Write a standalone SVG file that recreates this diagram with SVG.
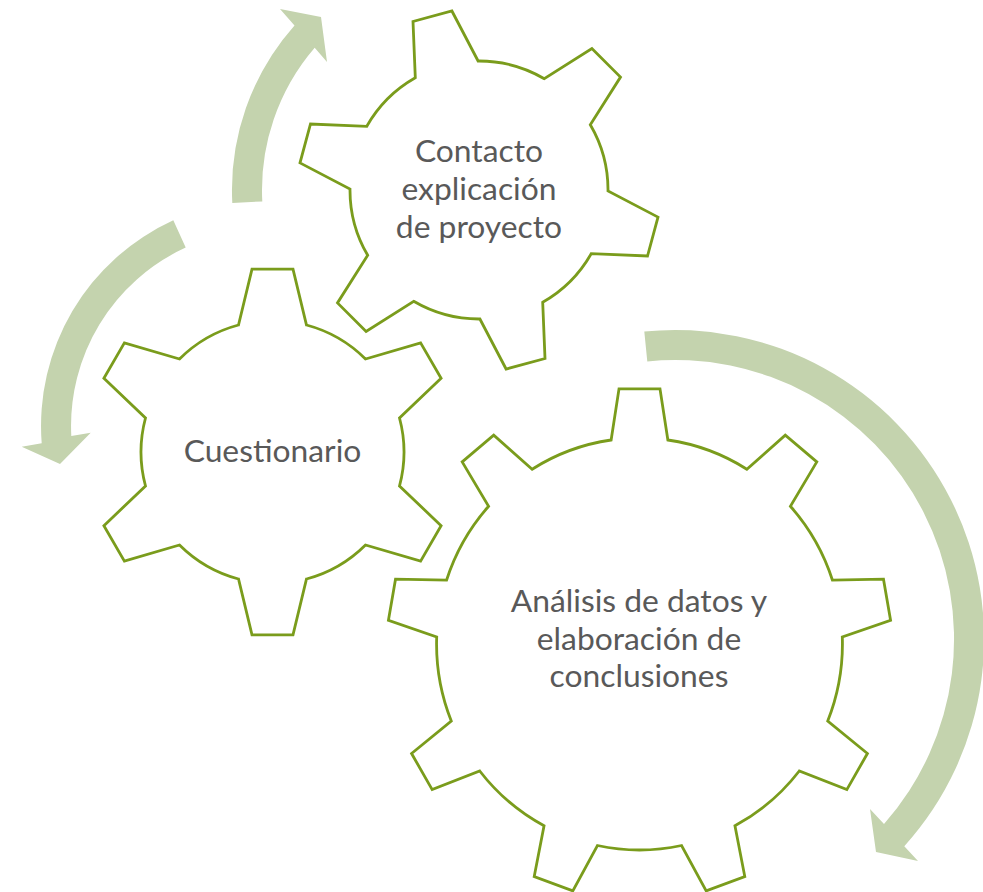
<svg xmlns="http://www.w3.org/2000/svg" width="983" height="892" viewBox="0 0 983 892">
<style>
.arrow{fill:#c4d3ae;stroke:none}
.gear{fill:#ffffff;stroke:#7a9c1c;stroke-width:2.8;stroke-linejoin:miter;vector-effect:non-scaling-stroke}
.lbl{font-family:Lato,"Open Sans","Liberation Sans",sans-serif;font-size:31.8px;fill:#595959;text-anchor:middle}
</style>
<rect width="983" height="892" fill="#ffffff"/>
<g id="connectors">
<path class="arrow" d="M 232.3,203.0 A 248 248 0 0 1 294.5,25.4 L 280,9 L 321,17 L 327,62 L 314.7,47.8 A 218 218 0 0 0 262.3,201.4 Z"/>
<path class="arrow" d="M 173.3,220.3 A 226 226 0 0 0 41.7,443.3 L 21.7,446.7 L 60,464 L 90.7,432.7 L 71.3,435.9 A 196 196 0 0 1 185.7,247.6 Z"/>
<path class="arrow" d="M 644.3,331.5 A 309 309 0 0 1 904.3,846.2 L 918,861 L 876,852 L 870,809 L 884.0,823.9 A 279 279 0 0 0 647.3,361.4 Z"/>
</g>
<g id="gear-contacto">
<path class="gear" d="M 415.3,77.8 L 413.0,21.5 L 451.9,11.0 L 478.1,61.0 A 129 129 0 0 1 544.3,78.7 L 591.9,48.5 L 620.5,77.1 L 590.3,124.7 A 129 129 0 0 1 608.0,190.9 L 658.0,217.1 L 647.5,256.0 L 591.2,253.7 A 129 129 0 0 1 542.7,302.2 L 545.0,358.5 L 506.1,369.0 L 479.9,319.0 A 129 129 0 0 1 413.7,301.3 L 366.1,331.5 L 337.5,302.9 L 367.7,255.3 A 129 129 0 0 1 350.0,189.1 L 300.0,162.9 L 310.5,124.0 L 366.8,126.3 A 129 129 0 0 1 415.3,77.8 Z"/>
<text class="lbl" x="479" y="162.3">Contacto</text>
<text class="lbl" x="479" y="200">explicación</text>
<text class="lbl" x="479" y="237.7">de proyecto</text>
</g>
<g id="gear-cuestionario">
<path class="gear" d="M 238.5,325.0 L 252.0,269.1 L 293.0,269.1 L 306.5,325.0 A 131.5 131.5 0 0 1 365.5,359.0 L 420.6,342.8 L 441.1,378.3 L 399.5,418.0 A 131.5 131.5 0 0 1 399.5,486.0 L 441.1,525.7 L 420.6,561.2 L 365.5,545.0 A 131.5 131.5 0 0 1 306.5,579.0 L 293.0,634.9 L 252.0,634.9 L 238.5,579.0 A 131.5 131.5 0 0 1 179.5,545.0 L 124.4,561.2 L 103.9,525.7 L 145.5,486.0 A 131.5 131.5 0 0 1 145.5,418.0 L 103.9,378.3 L 124.4,342.8 L 179.5,359.0 A 131.5 131.5 0 0 1 238.5,325.0 Z"/>
<text class="lbl" x="272.5" y="462.3">Cuestionario</text>
</g>
<g id="gear-analisis">
<path class="gear" transform="translate(639.5,644) scale(0.985,1)" d="M -28.8,-204.0 L -20.8,-255.2 L 20.8,-255.2 L 28.8,-204.0 A 206 206 0 0 1 109.0,-174.8 L 148.0,-208.8 L 180.0,-182.1 L 153.2,-137.7 A 206 206 0 0 1 195.9,-63.8 L 247.7,-64.8 L 254.9,-23.8 L 205.9,-7.0 A 206 206 0 0 1 191.1,77.0 L 231.4,109.5 L 210.5,145.6 L 162.2,127.0 A 206 206 0 0 1 96.9,181.8 L 106.9,232.6 L 67.7,246.9 L 42.7,201.5 A 206 206 0 0 1 -42.7,201.5 L -67.7,246.9 L -106.9,232.6 L -96.9,181.8 A 206 206 0 0 1 -162.2,127.0 L -210.5,145.6 L -231.4,109.5 L -191.1,77.0 A 206 206 0 0 1 -205.9,-7.0 L -254.9,-23.8 L -247.7,-64.8 L -195.9,-63.8 A 206 206 0 0 1 -153.2,-137.7 L -180.0,-182.1 L -148.0,-208.8 L -109.0,-174.8 A 206 206 0 0 1 -28.8,-204.0 Z"/>
<text class="lbl" x="639" y="611.7">Análisis de datos y</text>
<text class="lbl" x="639" y="649.5">elaboración de</text>
<text class="lbl" x="639" y="687.3">conclusiones</text>
</g>
</svg>
